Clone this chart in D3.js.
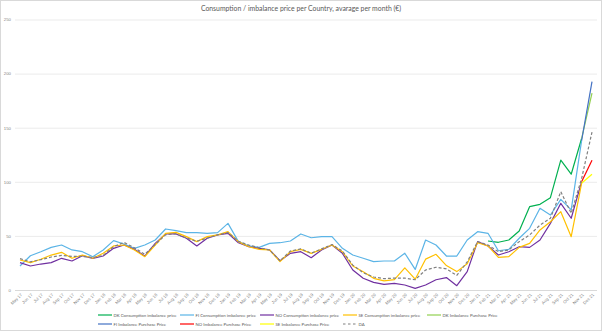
<!DOCTYPE html>
<html><head><meta charset="utf-8">
<script src="https://cdn.jsdelivr.net/npm/d3@7"></script>
<style>
html,body{margin:0;padding:0;background:#fff;}
svg{display:block;font-family:Lato,"Open Sans",sans-serif;}
</style></head>
<body><svg id="c" width="602" height="331"></svg>
<script>
const months = ["May 17","Jun 17","Jul 17","Aug 17","Sep 17","Oct 17","Nov 17","Dec 17",
"Jan 18","Feb 18","Mar 18","Apr 18","May 18","Jun 18","Jul 18","Aug 18","Sep 18","Oct 18","Nov 18","Dec 18",
"Jan 19","Feb 19","Mar 19","Apr 19","May 19","Jun 19","Jul 19","Aug 19","Sep 19","Oct 19","Nov 19","Dec 19",
"Jan 20","Feb 20","Mar 20","Apr 20","May 20","Jun 20","Jul 20","Aug 20","Sep 20","Oct 20","Nov 20","Dec 20",
"Jan 21","Feb 21","Mar 21","Apr 21","May 21","Jun 21","Jul 21","Aug 21","Sep 21","Oct 21","Nov 21","Dec 21"];
const yTicks = [0,50,100,150,200,250];
const N = null;

const dkCons = [N,N,N,N,N,N,N,N, N,N,N,N,N,N,N,N,N,N,N,N, N,N,N,N,N,N,N,N,N,N,N,N, N,N,N,N,N,N,N,N,N,N,N,N,
 N,45.3,44.1,46.2,54.5,77,79.2,85.3,120,107,140,N];
const fiCons = [22.2,31.7,35.4,39.4,41.6,37,35.4,30.8,
 37,45.6,42.5,38.5,41.6,46.2,56.4,54.8,53,53,52.4,53,
 61.6,44.7,40.7,39.4,43.1,43.7,45.3,51.8,48.3,49.3,49.3,38.5,
 32.3,29.3,26.2,26.8,26.8,34,19,46.2,41.6,31.4,31.4,46.2,
 53.9,52.4,36.3,37.6,47.8,57,75.5,69.3,83.8,74,138,N];
const noCons = [25.3,22.2,24,25.3,29.3,26.8,31.7,29.3,
 31.4,38.5,41.6,37.6,31.4,43.1,51.8,51.8,47.8,40.7,47.8,51,
 52.4,43.7,40,38.5,37,27.1,33.9,35.4,29.9,37,41.6,33.9,
 18.5,10.8,7,5.2,6.2,4.6,1.5,4.6,9.5,11.5,4,17,
 44.7,40.7,32.3,35.4,40,39.4,46.2,61.6,80.1,66.3,100,N];
const seCons = [27.7,25.3,28.4,32.3,34.8,29.3,32.3,29.3,
 33.9,40.7,41.6,37,30.8,41.6,52.4,53.3,49.3,44.7,49.3,51,
 53.9,44.7,40,37.6,37,26.2,35.4,37.6,33.9,37.6,41.6,35.4,
 22.2,16.9,10.8,8.5,9.5,20.5,10,28.5,33,22.6,17,24.2,
 43.7,40.7,30.2,30.8,39.4,43.1,55.5,63.1,72.4,49.3,98.6,N];
const dkPurch = Array(54).fill(N).concat([140,182]);
const fiPurch = Array(54).fill(N).concat([138,192.5]);
const noPurch = Array(54).fill(N).concat([100,120]);
const sePurch = Array(54).fill(N).concat([98.6,107]);
const da = [29,26,28,30.5,32,31,31,30,
 32,40,44,39,33,42,51,52,48,45,48,51,
 53,45,41.5,39,37,27,36,38,34,38,42,36,
 23,16,12,10.5,11,11,9.5,18.5,21,19.5,13.5,26,
 44.7,41.6,35.4,37,44.7,50.8,60,66.3,90.9,70.9,103,146];

const seriesNames = ["DK Consumption imbalance price","FI Consumption imbalance price","NO Consumption imbalance price",
 "SE Consumption imbalance price","DK Imbalance Purchase Price","FI Imbalance Purchase Price",
 "NO Imbalance Purchase Price","SE Imbalance Purchase Price","DA"];
const seriesData = [dkCons,fiCons,noCons,seCons,dkPurch,fiPurch,noPurch,sePurch,da];
const colors = ["#00b050","#5bb4e6","#7030a0","#ffc000","#92d050","#4472c4","#ff0000","#ffff00","#808080"];

const svg = d3.select("#c");
const W = 602, H = 331;
svg.append("rect").attr("x",0.5).attr("y",0.5).attr("width",W-1).attr("height",H-1)
  .attr("fill","#fff").attr("stroke","#d9d9d9");

const x = d3.scalePoint().domain(months).range([20,592]);
const y = d3.scaleLinear().domain([0,250]).range([290,19.5]);

// fit a text element to a target width by scaling its font-size
function fit(sel, base, target){
  sel.style("font-size", base+"px");
  const w = sel.node().getComputedTextLength();
  const fs = base*target/w;
  sel.style("font-size", fs+"px");
  return fs;
}

// title
const title = svg.append("text").attr("x",301).attr("y",10.5).attr("text-anchor","middle")
  .attr("fill","#595959")
  .text("Consumption / imbalance price per Country, avarage per month (€)");
fit(title, 6.4, 200);

// y grid + labels
const yAxis = d3.axisLeft(y).tickValues(yTicks).tickSize(-(597-15)).tickPadding(4);
const gy = svg.append("g").attr("transform","translate(15,0)").call(yAxis);
gy.select(".domain").remove();
gy.selectAll(".tick line").attr("stroke","#e6e6e6").attr("stroke-width",0.8);
gy.selectAll(".tick text").attr("fill","#7f7f7f").style("font-size","4.3px").attr("x",-4);

// x axis
const xAxis = d3.axisBottom(x).tickSize(0).tickPadding(0);
const gx = svg.append("g").attr("transform","translate(0,290)").call(xAxis);
gx.select(".domain").attr("stroke","#d9d9d9").attr("d","M15,0.5H597");
gx.selectAll(".tick text").attr("fill","#7f7f7f").style("font-size","4.3px")
  .attr("text-anchor","end").attr("dy",0).attr("y",0)
  .attr("transform","translate(2,5) rotate(-45)");

// lines
const line = d3.line().defined(d=>d!=null).x((d,i)=>x(months[i])).y(d=>y(d));
seriesData.forEach((s,k)=>{
  svg.append("path").datum(s).attr("fill","none").attr("stroke",colors[k])
    .attr("stroke-width",1.2).attr("stroke-linejoin","round")
    .attr("stroke-dasharray", k===8 ? "3,2" : null)
    .attr("d", line);
});

// legend
const colX = [98,180,260,343,427];
const rowY = [315,324];
let legendFs = null;
seriesNames.forEach((n,k)=>{
  const cx = colX[k%5], cy = rowY[Math.floor(k/5)];
  svg.append("line").attr("x1",cx).attr("x2",cx+14).attr("y1",cy).attr("y2",cy)
    .attr("stroke",colors[k]).attr("stroke-width",1.2)
    .attr("stroke-dasharray", k===8 ? "2.5,2.5" : null);
  const t = svg.append("text").attr("x",cx+15.5).attr("y",cy+1.5).attr("fill","#595959").text(n);
  if (legendFs === null) legendFs = fit(t, 4.6, 63);
  else t.style("font-size", legendFs+"px");
});
</script></body></html>
